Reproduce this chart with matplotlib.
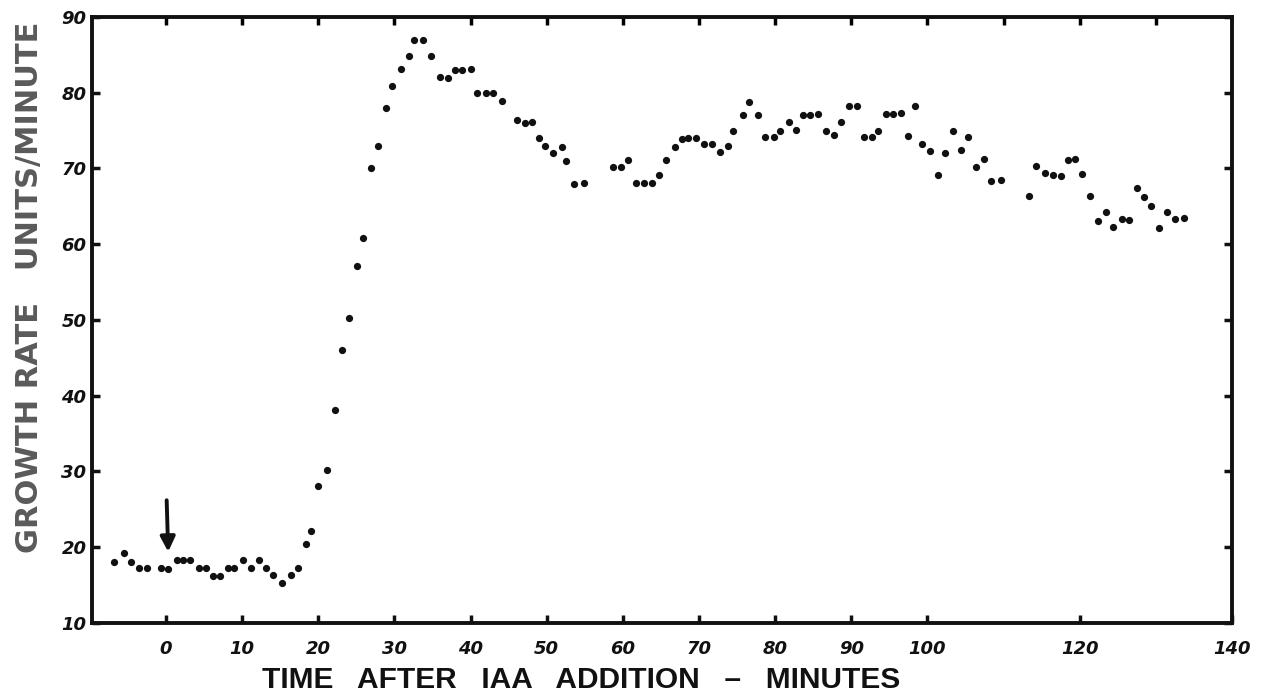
import matplotlib
matplotlib.use("Agg")
import matplotlib.pyplot as plt

# growth rate readings (units/minute) vs time after IAA addition (minutes)
time_min = [-6.8, -5.5, -4.6, -3.5, -2.5, -0.7, 0.3, 1.4, 2.3, 3.2,
            4.3, 5.2, 6.2, 7.1, 8.1, 9.0, 10.1, 11.2, 12.2, 13.2,
            14.1, 15.2, 16.4, 17.3, 18.4, 19.1, 20.0, 21.2, 22.2, 23.1,
            24.0, 25.1, 25.9, 26.9, 27.9, 28.9, 29.7, 30.9, 31.9, 32.6,
            33.7, 34.8, 36.0, 37.1, 38.0, 38.9, 40.0, 40.9, 42.0, 43.0,
            44.1, 46.1, 47.1, 48.1, 49.0, 49.8, 50.8, 52.0, 52.6, 53.6,
            54.9, 58.7, 59.7, 60.7, 61.7, 62.8, 63.8, 64.7, 65.7, 66.8,
            67.8, 68.6, 69.6, 70.6, 71.7, 72.7, 73.8, 74.5, 75.8, 76.6,
            77.8, 78.7, 79.8, 80.7, 81.8, 82.8, 83.6, 84.6, 85.6, 86.7,
            87.7, 88.7, 89.7, 90.8, 91.7, 92.7, 93.5, 94.5, 95.5, 96.5,
            97.4, 98.3, 99.3, 100.3, 101.4, 102.3, 103.3, 104.4, 105.3, 106.4,
            107.4, 108.4, 109.6, 113.3, 114.3, 115.4, 116.5, 117.5, 118.4, 119.4,
            120.3, 121.4, 122.4, 123.4, 124.4, 125.5, 126.5, 127.5, 128.4, 129.4,
            130.4, 131.5, 132.5, 133.7]

growth_rate = [18.1, 19.2, 18.1, 17.2, 17.2, 17.2, 17.1, 18.3, 18.3, 18.3,
               17.2, 17.2, 16.2, 16.2, 17.2, 17.2, 18.3, 17.2, 18.3, 17.3,
               16.4, 15.3, 16.3, 17.3, 20.4, 22.1, 28.1, 30.2, 38.1, 46.1,
               50.2, 57.1, 60.8, 70.1, 73.0, 78.0, 80.9, 83.1, 84.9, 87.0,
               86.9, 84.9, 82.1, 82.0, 83.0, 83.0, 83.1, 80.0, 80.0, 80.0,
               78.9, 76.4, 76.0, 76.1, 74.0, 73.0, 72.0, 72.9, 71.0, 68.0,
               68.1, 70.2, 70.2, 71.1, 68.1, 68.1, 68.1, 69.1, 71.1, 72.9,
               73.9, 74.0, 74.0, 73.2, 73.2, 72.2, 73.0, 75.0, 77.1, 78.8,
               77.1, 74.2, 74.1, 75.0, 76.1, 75.1, 77.1, 77.1, 77.2, 75.0,
               74.4, 76.2, 78.2, 78.2, 74.1, 74.1, 75.0, 77.2, 77.2, 77.3,
               74.3, 78.3, 73.2, 72.3, 69.1, 72.1, 75.0, 72.4, 74.2, 70.2,
               71.3, 68.4, 68.5, 66.4, 70.3, 69.4, 69.2, 69.0, 71.1, 71.3,
               69.3, 66.4, 63.1, 64.3, 62.3, 63.3, 63.2, 67.4, 66.2, 65.1,
               62.2, 64.2, 63.3, 63.5]

x_ticks_bottom = [0, 10, 20, 30, 40, 50, 60, 70, 80, 90, 100, 120, 140]
x_ticks_top = [0, 10, 20, 30, 40, 50, 60, 70, 80, 90, 100, 110, 120, 130]
y_ticks = [10, 20, 30, 40, 50, 60, 70, 80, 90]

fig = plt.figure(figsize=(12.66, 6.97), dpi=100)
ax = fig.add_axes([0.0727, 0.1062, 0.9005, 0.8694])

ax.plot(time_min, growth_rate, "o", color="#111111", markersize=4.2,
        linestyle="none")

# arrow marking the time of IAA addition
ax.annotate("", xy=(0.3, 19.4), xytext=(0.1, 26.2),
            arrowprops=dict(arrowstyle="-|>", color="#111111", lw=2.8,
                            mutation_scale=22, shrinkA=0, shrinkB=0))

ax.set_xlim(-9.7, 140)
ax.set_ylim(10.6, 90)

for side in ["left", "right", "top", "bottom"]:
    ax.spines[side].set_linewidth(2.8)
    ax.spines[side].set_color("#111111")

ax.set_xticks(x_ticks_bottom)
ax.set_xticklabels([str(t) for t in x_ticks_bottom])
ax.set_yticks(y_ticks)
ax.set_yticklabels([str(t) for t in y_ticks])

ax.tick_params(axis="x", direction="in", length=6, width=2.5, pad=12,
               bottom=True, top=False, labelsize=13, colors="#111111")
ax.tick_params(axis="y", direction="in", length=6, width=2.5, pad=4,
               left=True, right=True, labelsize=13, colors="#111111")
for lab in ax.get_xticklabels() + ax.get_yticklabels():
    lab.set_fontweight("bold")
    lab.set_fontstyle("italic")

# top ticks every 10 minutes
top = ax.secondary_xaxis("top")
top.set_xticks(x_ticks_top)
top.tick_params(direction="in", length=6, width=2.5, labeltop=False)
top.spines["top"].set_visible(False)

fig.text(0.459, 0.024, "TIME   AFTER   IAA   ADDITION   \u2013   MINUTES",
         ha="center", va="center", fontsize=21.5, fontweight="bold",
         family="Liberation Sans", color="#111111")
fig.text(0.023, 0.588, "GROWTH RATE   UNITS/MINUTE", rotation=90,
         ha="center", va="center", fontsize=22, fontweight="bold",
         family="DejaVu Sans", color="#5a5a5a")

fig.savefig("out.png", dpi=100)
